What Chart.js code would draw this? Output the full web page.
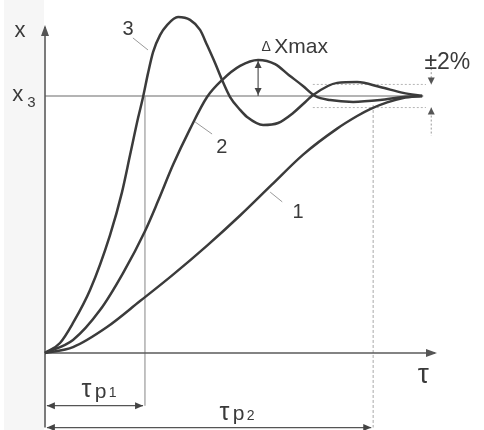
<!DOCTYPE html>
<html>
<head>
<meta charset="utf-8">
<script src="https://cdn.jsdelivr.net/npm/chart.js@4/dist/chart.umd.min.js"></script>
<style>
    html, body { margin: 0; padding: 0; background: #fff; }
    #wrap { width: 484px; height: 430px; }
</style>
</head>
<body>
<div id="wrap"><canvas id="transientChart" width="484" height="430"></canvas></div>
<script>
// Transient response curves (x normalised so that x3 = 1, time so that settling point = 100)
const timeCurve1 = [0, 7.43, 16.45, 25.2, 33.95, 42.97, 51.72, 60.21, 68.44, 77.45, 82.76, 86.21, 90.72, 94.96, 100];
const valueCurve1 = [0, 0.023, 0.101, 0.202, 0.305, 0.418, 0.535, 0.656, 0.772, 0.873, 0.922, 0.949, 0.975, 0.992, 1.0];

const timeCurve2 = [0, 7.43, 14.59, 20.69, 26.53, 29.97, 33.95, 38.46, 42.97, 46.95, 51.72, 56.5, 61.0, 64.7, 68.4, 71.6, 75.6, 81.7, 88.86, 94.96, 100];
const valueCurve2 = [0, 0.051, 0.167, 0.311, 0.475, 0.591, 0.732, 0.872, 0.996, 1.062, 1.117, 1.14, 1.124, 1.081, 1.039, 1.0, 0.984, 0.977, 0.984, 0.996, 1.0];

const timeCurve3 = [0, 3.98, 7.43, 11.94, 17.24, 20.42, 22.55, 24.67, 26.0, 27.32, 28.65, 30.5, 32.36, 35.28, 38.46, 41.11, 42.97, 45.09, 46.95, 49.07, 51.72, 53.58, 57.82, 61.8, 65.78, 68.44, 71.09, 77.45, 82.76, 88.86, 94.96, 100];
const valueCurve3 = [0, 0.039, 0.117, 0.245, 0.459, 0.626, 0.770, 0.914, 0.996, 1.089, 1.171, 1.237, 1.276, 1.307, 1.296, 1.257, 1.198, 1.128, 1.062, 0.996, 0.946, 0.918, 0.887, 0.895, 0.934, 0.969, 1.004, 1.051, 1.054, 1.035, 1.012, 1.0];

// reference levels and times
const X_SET = 1.0;          // x3
const BAND = 0.045;         // ±2% band (drawn height)
const TP1 = 26.5;
const TP2 = 87.0;
const DX_TIME = 56.5;       // position of ΔXmax
const DX_PEAK = 1.14;
const AXIS_X_END = 103.4;
const AXIS_Y_END = 1.268;

const INK = '#3b3b3b';

function toPoints(xs, ys) {
    return xs.map((x, i) => ({ x: x, y: ys[i] }));
}

function arrowHead(ctx, x, y, dir, len, half) {
    // dir: direction the tip points
    ctx.beginPath();
    if (dir === 'up') { ctx.moveTo(x, y); ctx.lineTo(x - half, y + len); ctx.lineTo(x + half, y + len); }
    if (dir === 'down') { ctx.moveTo(x, y); ctx.lineTo(x - half, y - len); ctx.lineTo(x + half, y - len); }
    if (dir === 'left') { ctx.moveTo(x, y); ctx.lineTo(x + len, y - half); ctx.lineTo(x + len, y + half); }
    if (dir === 'right') { ctx.moveTo(x, y); ctx.lineTo(x - len, y - half); ctx.lineTo(x - len, y + half); }
    ctx.closePath();
    ctx.fill();
}

function line(ctx, x1, y1, x2, y2, color, width, dash) {
    ctx.save();
    ctx.strokeStyle = color;
    ctx.lineWidth = width;
    ctx.setLineDash(dash || []);
    ctx.beginPath();
    ctx.moveTo(x1, y1);
    ctx.lineTo(x2, y2);
    ctx.stroke();
    ctx.restore();
}

// Axes, guide lines, dimension arrows
const guidePlugin = {
    id: 'guides',
    beforeDatasetsDraw(chart) {
        const ctx = chart.ctx;
        const sx = chart.scales.x, sy = chart.scales.y;
        const px = v => sx.getPixelForValue(v);
        const py = v => sy.getPixelForValue(v);

        ctx.save();
        // scanned page shade at left
        ctx.fillStyle = 'rgba(0,0,0,0.035)';
        ctx.fillRect(4, 0, px(0) - 5, chart.height);

        // x3 level
        line(ctx, px(0), py(X_SET), px(100.3), py(X_SET), '#6a6a6a', 1.2);
        // ±2% band
        line(ctx, px(71), py(X_SET + BAND), px(101), py(X_SET + BAND), '#b5b5b5', 1, [2, 2]);
        line(ctx, px(71), py(X_SET - BAND), px(101), py(X_SET - BAND), '#b5b5b5', 1, [2, 2]);

        // Tp1 / Tp2 extension lines
        line(ctx, px(TP1), py(X_SET), px(TP1), py(-0.205), '#9a9a9a', 1.2);
        line(ctx, px(TP2), py(X_SET - BAND + 0.01), px(TP2), py(-0.29), '#a8a8a8', 1, [3, 2]);

        // axes
        line(ctx, px(0), py(AXIS_Y_END), px(0), py(-0.29), '#5a5a5a', 1.6);
        line(ctx, px(0), py(0), px(AXIS_X_END), py(0), '#5a5a5a', 1.6);
        ctx.fillStyle = '#555';
        arrowHead(ctx, px(0), py(AXIS_Y_END) - 2, 'up', 11, 4);
        arrowHead(ctx, px(AXIS_X_END) + 2, py(0), 'right', 11, 4);

        // Tp1 and Tp2 dimension arrows
        ctx.fillStyle = '#444';
        line(ctx, px(0.5), py(-0.205), px(TP1 - 0.5), py(-0.205), '#555', 1.2);
        arrowHead(ctx, px(0.5), py(-0.205), 'left', 8, 3.5);
        arrowHead(ctx, px(TP1 - 0.5), py(-0.205), 'right', 8, 3.5);
        line(ctx, px(0.5), py(-0.29), px(TP2 - 0.5), py(-0.29), '#555', 1.2);
        arrowHead(ctx, px(0.5), py(-0.29), 'left', 8, 3.5);
        arrowHead(ctx, px(TP2 - 0.5), py(-0.29), 'right', 8, 3.5);

        // ΔXmax arrow
        line(ctx, px(DX_TIME), py(DX_PEAK), px(DX_TIME), py(X_SET), '#555', 1.2);
        arrowHead(ctx, px(DX_TIME), py(DX_PEAK) + 1, 'up', 7, 3.5);
        arrowHead(ctx, px(DX_TIME), py(X_SET) - 1, 'down', 7, 3.5);

        // ±2% arrows
        const bx = px(102.4);
        line(ctx, bx, py(X_SET + BAND + 0.11), bx, py(X_SET + BAND), '#999', 1, [2, 2]);
        line(ctx, bx, py(X_SET - BAND), bx, py(X_SET - BAND - 0.11), '#999', 1, [2, 2]);
        ctx.fillStyle = '#555';
        arrowHead(ctx, bx, py(X_SET + BAND), 'down', 7, 3.5);
        arrowHead(ctx, bx, py(X_SET - BAND), 'up', 7, 3.5);

        // leader lines for curve numbers
        line(ctx, px(23.3), py(1.226), px(27.3), py(1.179), '#999', 1);
        line(ctx, px(39.8), py(0.899), px(44.3), py(0.852), '#999', 1);
        line(ctx, px(59.7), py(0.626), px(62.9), py(0.588), '#999', 1);
        ctx.restore();
    },
    afterDatasetsDraw(chart) {
        const ctx = chart.ctx;
        const sx = chart.scales.x, sy = chart.scales.y;
        const px = v => sx.getPixelForValue(v);
        const py = v => sy.getPixelForValue(v);
        const font = '"Liberation Sans", Arial, sans-serif';

        ctx.save();
        ctx.fillStyle = '#3a3a3a';
        ctx.textBaseline = 'middle';
        ctx.textAlign = 'center';

        ctx.font = '22px ' + font;
        ctx.fillText('x', px(-6.6), py(1.255));
        ctx.fillText('x', px(-7.2), py(1.005));
        ctx.font = '15px ' + font;
        ctx.fillText('3', px(-3.6), py(0.975));

        ctx.font = '20px ' + font;
        ctx.fillText('3', px(22.0), py(1.257));
        ctx.fillText('2', px(46.9), py(0.80));
        ctx.fillText('1', px(67.1), py(0.545));

        ctx.textAlign = 'left';
        ctx.font = '14px ' + font;
        ctx.fillText('\u0394', px(57.4), py(1.19));
        ctx.font = '21px ' + font;
        ctx.fillText('Xmax', px(60.8), py(1.19));
        ctx.font = '23px ' + font;
        ctx.fillText('\u00B12%', px(100.6), py(1.13));

        ctx.textAlign = 'center';
        ctx.font = '28px ' + font;
        ctx.fillText('\u03C4', px(100.3), py(-0.085));

        ctx.font = '25px ' + font;
        ctx.fillText('\u03C4', px(11.0), py(-0.145));
        ctx.fillText('\u03C4', px(47.6), py(-0.232));
        ctx.font = '21px ' + font;
        ctx.textAlign = 'left';
        ctx.fillText('p', px(13.2), py(-0.152));
        ctx.fillText('p', px(49.8), py(-0.239));
        ctx.font = '14px ' + font;
        ctx.fillText('1', px(16.9), py(-0.158));
        ctx.fillText('2', px(53.5), py(-0.245));
        ctx.restore();
    }
};

document.addEventListener('DOMContentLoaded', function () {
    const ctx = document.getElementById('transientChart');

    const curveStyle = {
        borderColor: INK,
        borderWidth: 2.5,
        pointRadius: 0,
        fill: false,
        cubicInterpolationMode: 'monotone'
    };

    new Chart(ctx, {
        type: 'line',
        data: {
            datasets: [
                Object.assign({ label: '1', data: toPoints(timeCurve1, valueCurve1) }, curveStyle),
                Object.assign({ label: '2', data: toPoints(timeCurve2, valueCurve2) }, curveStyle),
                Object.assign({ label: '3', data: toPoints(timeCurve3, valueCurve3) }, curveStyle)
            ]
        },
        options: {
            responsive: false,
            animation: false,
            clip: false,
            layout: {
                padding: { left: 45, right: 49, top: 5, bottom: 77 }
            },
            plugins: {
                legend: { display: false },
                tooltip: { enabled: false }
            },
            scales: {
                x: { type: 'linear', min: 0, max: AXIS_X_END, display: false },
                y: { type: 'linear', min: 0, max: 1.354, display: false }
            }
        },
        plugins: [guidePlugin]
    });
});
</script>
</body>
</html>
